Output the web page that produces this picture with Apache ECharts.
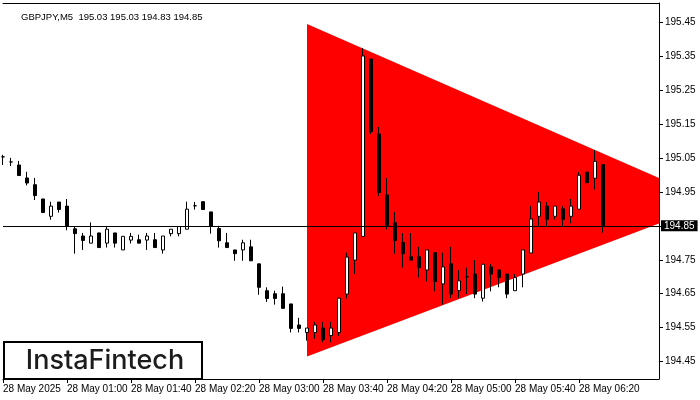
<!DOCTYPE html>
<html>
<head>
<meta charset="utf-8">
<script src="https://cdn.jsdelivr.net/npm/echarts@6/dist/echarts.min.js"></script>
<style>
html,body{margin:0;padding:0;background:#fff;}
#chart{width:700px;height:400px;}
</style>
</head>
<body>
<div id="chart"></div>
<script>
// 5-minute bars starting 28 May 2025 00:20 (76 bars + 7 empty future slots)
var categories = [];
for (var m = 20; m <= 20 + 82 * 5; m += 5) {
  var hh = Math.floor(m / 60), mm = m % 60;
  categories.push((hh < 10 ? '0' : '') + hh + ':' + (mm < 10 ? '0' : '') + mm);
}

var opens = [195.053,195.038,195.029,194.991,194.971,194.929,194.878,194.920,194.908,194.841,
  194.820,194.799,194.829,194.799,194.829,194.779,194.808,194.809,194.808,194.809,
  194.779,194.827,194.827,194.840,194.909,194.921,194.891,194.842,194.800,194.779,
  194.779,194.788,194.738,194.659,194.650,194.650,194.620,194.558,194.536,194.536,
  194.549,194.527,194.536,194.649,194.749,194.819,195.341,195.120,194.941,194.859,
  194.801,194.759,194.759,194.720,194.771,194.679,194.738,194.659,194.700,194.708,
  194.637,194.729,194.720,194.708,194.659,194.708,194.770,194.878,194.908,194.878,
  194.900,194.878,194.899,195.008,194.990,195.030];
var closes = [195.053,195.038,194.998,194.976,194.939,194.889,194.908,194.898,194.849,194.827,
  194.807,194.820,194.786,194.840,194.799,194.819,194.819,194.799,194.820,194.786,
  194.820,194.840,194.848,194.899,194.909,194.898,194.849,194.806,194.786,194.768,
  194.800,194.747,194.669,194.636,194.636,194.607,194.548,194.548,194.549,194.558,
  194.515,194.549,194.637,194.758,194.829,195.350,195.127,194.948,194.850,194.807,
  194.768,194.749,194.727,194.779,194.686,194.729,194.649,194.688,194.700,194.649,
  194.737,194.708,194.698,194.649,194.698,194.779,194.870,194.920,194.869,194.908,
  194.869,194.908,194.999,194.977,195.040,194.850];
var lows = [195.029,195.026,194.998,194.969,194.926,194.889,194.868,194.889,194.837,194.768,
  194.779,194.799,194.786,194.786,194.786,194.779,194.798,194.799,194.779,194.786,
  194.768,194.819,194.819,194.840,194.898,194.898,194.827,194.786,194.786,194.747,
  194.747,194.747,194.647,194.626,194.618,194.607,194.536,194.536,194.512,194.517,
  194.507,194.507,194.526,194.636,194.708,194.819,195.120,194.938,194.839,194.768,
  194.727,194.749,194.698,194.686,194.657,194.618,194.637,194.637,194.649,194.637,
  194.627,194.657,194.669,194.637,194.659,194.669,194.770,194.849,194.849,194.869,
  194.849,194.857,194.899,194.977,194.957,194.830];
var highs = [195.059,195.050,195.041,195.009,194.991,194.929,194.921,194.920,194.929,194.847,
  194.829,194.860,194.829,194.847,194.829,194.819,194.829,194.824,194.829,194.829,
  194.820,194.840,194.848,194.921,194.920,194.921,194.891,194.850,194.829,194.779,
  194.809,194.809,194.738,194.669,194.659,194.671,194.620,194.579,194.549,194.567,
  194.567,194.567,194.637,194.771,194.829,195.373,195.341,195.141,194.991,194.891,
  194.829,194.829,194.788,194.779,194.771,194.771,194.788,194.720,194.727,194.749,
  194.737,194.738,194.720,194.708,194.708,194.779,194.909,194.950,194.920,194.908,
  194.908,194.929,195.008,195.008,195.073,195.030];

// symmetrical triangle pattern corners: bar index and price
var patternIdx = [38, 82, 82, 38];
var patternVal = [195.444, 194.991, 194.857, 194.465];

var bidPrice = 194.85;
var yTicks = [194.45,194.55,194.65,194.75,194.85,194.95,195.05,195.15,195.25,195.35,195.45];
var xTickLabels = ['28 May 2025','28 May 01:00','28 May 01:40','28 May 02:20','28 May 03:00',
  '28 May 03:40','28 May 04:20','28 May 05:00','28 May 05:40','28 May 06:20'];
var titleText = 'GBPJPY,M5  195.03 195.03 194.83 194.85';

var candleData = opens.map(function (o, i) { return [o, closes[i], lows[i], highs[i]]; });

var FONT = 'Liberation Sans';
var chart = echarts.init(document.getElementById('chart'));
chart.setOption({
  animation: false,
  backgroundColor: '#ffffff',
  title: {
    text: titleText, left: 16, top: 7,
    textStyle: { fontSize: 9.5, fontWeight: 'normal', color: '#000', fontFamily: FONT }
  },
  grid: { left: 3, right: 41, top: 3, bottom: 21, containLabel: false },
  xAxis: [{
    type: 'category', data: categories, boundaryGap: false,
    axisLine: { show: true, lineStyle: { color: '#000', width: 1 } },
    axisTick: { show: true, length: 4, inside: false, lineStyle: { color: '#000' },
      interval: function (i) { return i % 8 === 0 && i <= 72; } },
    axisLabel: {
      show: true, interval: function (i) { return i % 8 === 0 && i <= 72; },
      formatter: function (v, i) { return xTickLabels[i / 8] || ''; },
      align: 'left', margin: 5, fontSize: 10, color: '#000', fontFamily: FONT
    },
    splitLine: { show: false }
  }, {
    type: 'category', data: categories, boundaryGap: false, position: 'top',
    axisLine: { show: true, lineStyle: { color: '#000', width: 1 } },
    axisTick: { show: false }, axisLabel: { show: false }, splitLine: { show: false }
  }],
  yAxis: {
    type: 'value', position: 'right', min: 194.399, max: 195.506, scale: true,
    axisLine: { show: true, lineStyle: { color: '#000', width: 1 } },
    axisTick: { show: true, length: 4, customValues: yTicks, lineStyle: { color: '#000' } },
    axisLabel: {
      show: true, customValues: yTicks, margin: 6, fontSize: 10, color: '#000', fontFamily: FONT,
      formatter: function (v) { return v.toFixed(2); }
    },
    splitLine: { show: false }
  },
  series: [{
    type: 'custom',
    z: 1,
    data: [[patternIdx[0], patternVal[0]]],
    renderItem: function (params, api) {
      var pts = patternIdx.map(function (x, k) { return api.coord([x, patternVal[k]]); });
      return { type: 'polygon', shape: { points: pts }, style: { fill: '#ff0000' } };
    },
    silent: true
  }, {
    type: 'candlestick',
    z: 3,
    barWidth: 4,
    data: candleData,
    itemStyle: {
      color: '#ffffff', color0: '#000000',
      borderColor: '#000000', borderColor0: '#000000', borderWidth: 1
    },
    markLine: {
      silent: true, symbol: ['none', 'none'], animation: false,
      lineStyle: { color: '#000', width: 1, type: 'solid' },
      label: {
        show: true, position: 'end', distance: 2,
        formatter: function () { return bidPrice.toFixed(2); },
        color: '#fff', backgroundColor: '#000', padding: [1, 3, 0, 3],
        fontSize: 10, fontFamily: FONT
      },
      data: [{ yAxis: bidPrice }]
    }
  }],
  graphic: [{
    type: 'group', left: 3, top: 341, children: [
      { type: 'rect', shape: { x: 0, y: 0, width: 198, height: 37 },
        style: { fill: '#fff', stroke: '#000', lineWidth: 2 } },
      { type: 'text', x: 101, y: 19,
        style: { text: 'InstaFintech', fill: '#1c1c1c', font: '500 27px Inter',
          textAlign: 'center', textVerticalAlign: 'middle' } }
    ]
  }]
});
</script>
</body>
</html>
